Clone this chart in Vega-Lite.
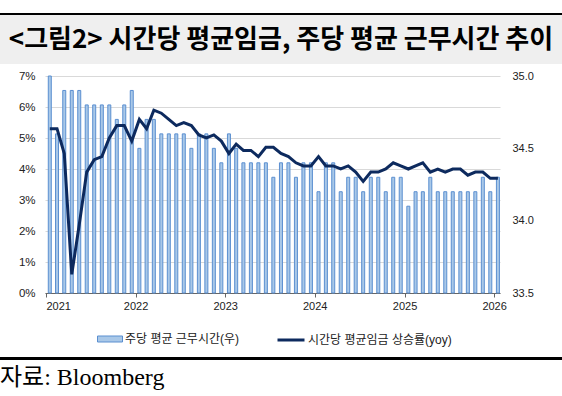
{
  "$schema": "https://vega.github.io/schema/vega-lite/v6.json",
  "padding": {"left": 0, "top": 13, "right": 0, "bottom": 4},
  "config": {
    "view": {"stroke": null},
    "axis": {"labelFont": "Liberation Sans", "labelColor": "#222", "labelFontSize": 11},
    "legend": {"labelFont": "Liberation Sans, Noto Sans CJK KR", "labelFontSize": 12, "labelColor": "#222", "labelLimit": 300}
  },
  "title": {
    "text": "자료: Bloomberg",
    "orient": "bottom",
    "anchor": "start",
    "frame": "bounds",
    "font": "Liberation Serif, Noto Sans CJK KR",
    "fontSize": 24,
    "fontWeight": "normal",
    "color": "#000",
    "offset": 6
  },
  "spacing": 0,
  "resolve": {
    "scale": {"fill": "independent", "stroke": "independent"},
    "legend": {"fill": "independent", "stroke": "independent"}
  },
  "vconcat": [
    {
      "width": 562,
      "height": 2,
      "view": {"fill": "#000000", "stroke": null},
      "data": {"values": []},
      "mark": "text"
    },
    {
      "width": 562,
      "height": 49,
      "view": {"fill": "#efefef", "stroke": null},
      "data": {"values": [{"t": "<그림2> 시간당 평균임금, 주당 평균 근무시간 추이"}]},
      "mark": {"type": "text", "font": "Noto Sans CJK KR", "fontSize": 26, "fontWeight": "bold", "color": "#000", "align": "center", "baseline": "middle"},
      "encoding": {"text": {"field": "t"}}
    },
    {
      "width": 562,
      "height": 6,
      "data": {"values": []},
      "mark": "text"
    },
    {
      "width": 562,
      "height": 217,
      "data": {"values": [
        {"d": "2021-01-01", "h": 35.0, "w": 5.3},
        {"d": "2021-02-01", "h": 34.6, "w": 5.3},
        {"d": "2021-03-01", "h": 34.9, "w": 4.5},
        {"d": "2021-04-01", "h": 34.9, "w": 0.6},
        {"d": "2021-05-01", "h": 34.9, "w": 2.2},
        {"d": "2021-06-01", "h": 34.8, "w": 3.9},
        {"d": "2021-07-01", "h": 34.8, "w": 4.3},
        {"d": "2021-08-01", "h": 34.8, "w": 4.4},
        {"d": "2021-09-01", "h": 34.8, "w": 5.0},
        {"d": "2021-10-01", "h": 34.7, "w": 5.4},
        {"d": "2021-11-01", "h": 34.8, "w": 5.4},
        {"d": "2021-12-01", "h": 34.9, "w": 4.9},
        {"d": "2022-01-01", "h": 34.5, "w": 5.6},
        {"d": "2022-02-01", "h": 34.7, "w": 5.3},
        {"d": "2022-03-01", "h": 34.7, "w": 5.9},
        {"d": "2022-04-01", "h": 34.6, "w": 5.8},
        {"d": "2022-05-01", "h": 34.6, "w": 5.6},
        {"d": "2022-06-01", "h": 34.6, "w": 5.4},
        {"d": "2022-07-01", "h": 34.6, "w": 5.5},
        {"d": "2022-08-01", "h": 34.5, "w": 5.4},
        {"d": "2022-09-01", "h": 34.6, "w": 5.1},
        {"d": "2022-10-01", "h": 34.6, "w": 5.0},
        {"d": "2022-11-01", "h": 34.5, "w": 5.1},
        {"d": "2022-12-01", "h": 34.4, "w": 4.9},
        {"d": "2023-01-01", "h": 34.6, "w": 4.5},
        {"d": "2023-02-01", "h": 34.5, "w": 4.8},
        {"d": "2023-03-01", "h": 34.4, "w": 4.6},
        {"d": "2023-04-01", "h": 34.4, "w": 4.6},
        {"d": "2023-05-01", "h": 34.4, "w": 4.4},
        {"d": "2023-06-01", "h": 34.4, "w": 4.7},
        {"d": "2023-07-01", "h": 34.3, "w": 4.7},
        {"d": "2023-08-01", "h": 34.4, "w": 4.5},
        {"d": "2023-09-01", "h": 34.4, "w": 4.4},
        {"d": "2023-10-01", "h": 34.3, "w": 4.2},
        {"d": "2023-11-01", "h": 34.4, "w": 4.1},
        {"d": "2023-12-01", "h": 34.4, "w": 4.1},
        {"d": "2024-01-01", "h": 34.2, "w": 4.4},
        {"d": "2024-02-01", "h": 34.4, "w": 4.1},
        {"d": "2024-03-01", "h": 34.4, "w": 4.1},
        {"d": "2024-04-01", "h": 34.2, "w": 4.0},
        {"d": "2024-05-01", "h": 34.3, "w": 4.1},
        {"d": "2024-06-01", "h": 34.3, "w": 3.9},
        {"d": "2024-07-01", "h": 34.2, "w": 3.6},
        {"d": "2024-08-01", "h": 34.3, "w": 3.9},
        {"d": "2024-09-01", "h": 34.3, "w": 3.9},
        {"d": "2024-10-01", "h": 34.2, "w": 4.0},
        {"d": "2024-11-01", "h": 34.3, "w": 4.2},
        {"d": "2024-12-01", "h": 34.3, "w": 4.1},
        {"d": "2025-01-01", "h": 34.1, "w": 4.0},
        {"d": "2025-02-01", "h": 34.2, "w": 4.1},
        {"d": "2025-03-01", "h": 34.2, "w": 4.2},
        {"d": "2025-04-01", "h": 34.3, "w": 3.9},
        {"d": "2025-05-01", "h": 34.2, "w": 4.0},
        {"d": "2025-06-01", "h": 34.2, "w": 3.9},
        {"d": "2025-07-01", "h": 34.2, "w": 4.0},
        {"d": "2025-08-01", "h": 34.2, "w": 4.0},
        {"d": "2025-09-01", "h": 34.2, "w": 3.8},
        {"d": "2025-10-01", "h": 34.2, "w": 3.9},
        {"d": "2025-11-01", "h": 34.3, "w": 3.9},
        {"d": "2025-12-01", "h": 34.2, "w": 3.7},
        {"d": "2026-01-01", "h": 34.3, "w": 3.7}
      ]},
      "encoding": {
        "x": {
          "field": "d",
          "type": "temporal",
          "timeUnit": "utcyearmonth",
          "bandPosition": 0.5,
          "scale": {
            "domain": [
              {"year": 2020, "month": 12, "date": 28, "utc": true},
              {"year": 2026, "month": 1, "date": 25, "utc": true}
            ],
            "range": [45, 500]
          },
          "axis": {
            "title": null,
            "format": "%Y",
            "tickCount": {"interval": "year", "step": 1},
            "grid": false,
            "domainColor": "#666666",
            "tickColor": "#666666",
            "tickSize": 4,
            "labelPadding": 3,
            "labelFontSize": 11
          }
        }
      },
      "layer": [
        {
          "mark": {"type": "bar", "width": 3, "stroke": "#5b8fd0", "strokeWidth": 1},
          "encoding": {
            "y": {
              "field": "h",
              "type": "quantitative",
              "scale": {"domain": [33.5, 35], "zero": false},
              "axis": {
                "orient": "right",
                "offset": -62,
                "title": null,
                "values": [33.5, 34, 34.5, 35],
                "format": ".1f",
                "grid": false,
                "domain": false,
                "ticks": false,
                "labelPadding": 12,
                "minExtent": 0,
                "labelFontSize": 11
              }
            },
            "y2": {"datum": 33.5},
            "fill": {
              "datum": "주당 평균 근무시간(우)",
              "type": "nominal",
              "scale": {"range": ["#a9c8e8"]},
              "legend": {
                "orient": "none",
                "legendX": 97,
                "legendY": 250,
                "title": null,
                "symbolType": "M-1,-0.24H1V0.24H-1Z",
                "symbolSize": 625,
                "symbolStrokeColor": "#5b8fd0",
                "symbolStrokeWidth": 1,
                "labelOffset": 2,
                "padding": 0
              }
            }
          }
        },
        {
          "mark": {"type": "line", "strokeWidth": 3},
          "encoding": {
            "y": {
              "field": "w",
              "type": "quantitative",
              "scale": {"domain": [0, 7]},
              "axis": {
                "orient": "left",
                "offset": -45,
                "title": null,
                "values": [0, 1, 2, 3, 4, 5, 6, 7],
                "labelExpr": "datum.value + '%'",
                "grid": true,
                "gridColor": "#d9d9d9",
                "gridWidth": 1,
                "domain": false,
                "ticks": false,
                "labelPadding": 10,
                "minExtent": 0,
                "labelFontSize": 11.5
              }
            },
            "stroke": {
              "datum": "시간당 평균임금 상승률(yoy)",
              "type": "nominal",
              "scale": {"range": ["#0d2a5e"]},
              "legend": {
                "orient": "none",
                "legendX": 276,
                "legendY": 249,
                "title": null,
                "symbolType": "stroke",
                "symbolSize": 729,
                "symbolStrokeWidth": 3,
                "labelOffset": 2,
                "padding": 0
              }
            }
          }
        }
      ],
      "resolve": {"scale": {"y": "independent"}}
    },
    {
      "width": 562,
      "height": 11,
      "data": {"values": []},
      "mark": "text"
    },
    {
      "width": 562,
      "height": 3,
      "view": {"fill": "#000000", "stroke": null},
      "data": {"values": []},
      "mark": "text"
    }
  ]
}
